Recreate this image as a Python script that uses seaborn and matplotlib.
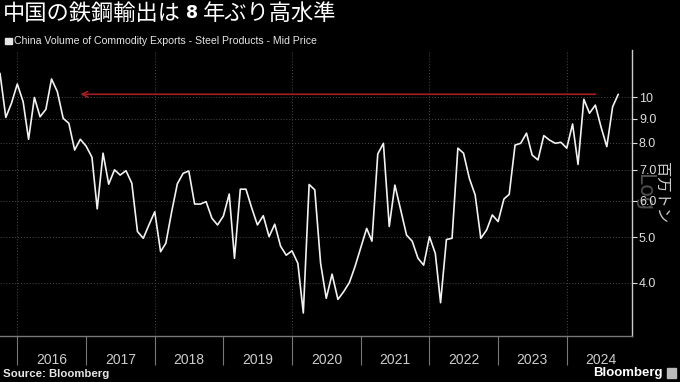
import matplotlib.dates as mdates
import matplotlib.pyplot as plt
import matplotlib.ticker as mticker
import pandas as pd
import seaborn as sns
from matplotlib.patches import Rectangle

# monthly steel product exports, million tonnes
START_MONTH = "2015-10-01"
export_volume = [
    11.27, 9.06, 9.72, 10.69, 9.79, 8.13, 10.0, 9.09, 9.43, 10.96,
    10.29, 9.02, 8.80, 7.71, 8.13, 7.86, 7.44, 5.76, 7.59, 6.51,
    6.99, 6.81, 6.96, 6.54, 5.15, 4.98, 5.32, 5.68, 4.66, 4.86,
    5.68, 6.52, 6.87, 6.95, 5.90, 5.90, 5.97, 5.50, 5.32, 5.56,
    6.20, 4.51, 6.35, 6.35, 5.78, 5.32, 5.57, 5.02, 5.34, 4.79,
    4.58, 4.68, 4.40, 3.44, 6.50, 6.33, 4.40, 3.70, 4.17, 3.68,
    3.82, 4.00, 4.33, 4.76, 5.23, 4.91, 7.56, 7.97, 5.28, 6.48,
    5.73, 5.06, 4.91, 4.51, 4.36, 5.02, 4.62, 3.62, 4.95, 4.98,
    7.78, 7.59, 6.70, 6.17, 4.98, 5.19, 5.59, 5.41, 6.05, 6.19,
    7.90, 7.97, 8.38, 7.52, 7.34, 8.28, 8.10, 7.97, 8.01, 7.78,
    8.77, 7.18, 9.91, 9.25, 9.63, 8.65, 7.84, 9.55, 10.16,
]
y_ticks = [4, 5, 6, 7, 8, 9, 10]
y_tick_labels = ["4.0", "5.0", "6.0", "7.0", "8.0", "9.0", "10"]
years = [2016, 2017, 2018, 2019, 2020, 2021, 2022, 2023, 2024]
grid_years = [2016, 2018, 2020, 2022, 2024]

# title is split so the "8" can be set in bold like the original
TITLE_PARTS = ["中国の鉄鋼輸出は", "8", "年ぶり高水準"]
SUBTITLE = "China Volume of Commodity Exports - Steel Products - Mid Price"
UNIT = "百万トン"

W, H = 680, 382
BG = "black"
FG = "#e6e6e6"
GRID = "#4a4a4a"
CJK = ["Noto Sans CJK JP", "DejaVu Sans"]


def px(x, y):
    # pixel position (from top-left) -> figure fraction
    return x / W, 1 - y / H


df = pd.DataFrame({
    "month": pd.date_range(START_MONTH, periods=len(export_volume), freq="MS"),
    "volume": export_volume,
})

sns.set_theme(style="dark", rc={"axes.facecolor": BG, "figure.facecolor": BG})
plt.rcParams["font.family"] = ["Liberation Sans", "Noto Sans CJK JP", "DejaVu Sans"]

fig = plt.figure(figsize=(W / 100, H / 100), dpi=100, facecolor=BG)
ax = fig.add_axes([0, 46 / H, 632 / W, 286 / H])
ax.set_facecolor(BG)

sns.lineplot(data=df, x="month", y="volume", ax=ax, color="#f2f2f2",
             linewidth=1.2, zorder=3)

ax.set_yscale("log")
ax.set_ylim(3.07, 12.65)
ax.set_xlim(mdates.date2num(pd.Timestamp("2015-10-01")),
            mdates.date2num(pd.Timestamp("2024-12-13")))
ax.set_xlabel("")
ax.set_ylabel("")

# y axis on the right
ax.yaxis.tick_right()
ax.set_yticks(y_ticks)
ax.set_yticklabels(y_tick_labels)
ax.yaxis.set_minor_locator(mticker.NullLocator())
ax.tick_params(axis="y", which="major", direction="out", length=3.5, width=0.8,
               color="#dddddd", labelcolor="#dddddd", labelsize=9, pad=1.5,
               right=True, left=False)

# x axis: long ticks at year boundaries, labels at mid-year
year_starts = [mdates.date2num(pd.Timestamp(f"{y}-01-01")) for y in years]
mid_years = [mdates.date2num(pd.Timestamp(f"{y}-07-02")) for y in years]
ax.set_xticks(year_starts)
ax.set_xticklabels([""] * len(years))
ax.set_xticks(mid_years, minor=True)
ax.set_xticklabels([str(y) for y in years], minor=True)
ax.tick_params(axis="x", which="major", direction="out", length=21, width=0.8,
               color="#777777", bottom=True)
ax.tick_params(axis="x", which="minor", length=0, labelsize=10,
               labelcolor="#cccccc", pad=12, bottom=True)

# dotted grid
ax.grid(False)
for v in y_ticks:
    ax.axhline(v, color=GRID, lw=0.7, ls=(0, (1, 2)), zorder=1)
for y in grid_years:
    ax.axvline(mdates.date2num(pd.Timestamp(f"{y}-01-01")), color=GRID,
               lw=0.7, ls=(0, (1, 2)), zorder=1)

for side in ["left", "top"]:
    ax.spines[side].set_visible(False)
ax.spines["right"].set_color("#cccccc")
ax.spines["right"].set_linewidth(1)
ax.spines["bottom"].set_color("#777777")
ax.spines["bottom"].set_linewidth(1)

# red arrow back to the last comparable level
last = export_volume[-1]
ax.annotate("", xy=(mdates.date2num(pd.Timestamp("2016-12-01")), last),
            xytext=(mdates.date2num(pd.Timestamp("2024-06-01")), last),
            arrowprops=dict(arrowstyle="->", color="#a31f1f", lw=1.2,
                            mutation_scale=10, shrinkA=0, shrinkB=0),
            zorder=2)

# title, chained piece by piece
t1 = fig.text(*px(3, 13), TITLE_PARTS[0], fontsize=16, color="white",
              va="center", family=CJK)
t2 = ax.annotate(TITLE_PARTS[1], xy=(1, 0.5), xycoords=t1, xytext=(3.5, 0),
                 textcoords="offset points", fontsize=12.5, fontweight="bold",
                 color="white", va="center", family=["DejaVu Sans"])
ax.annotate(TITLE_PARTS[2], xy=(1, 0.5), xycoords=t2, xytext=(3.5, 0),
            textcoords="offset points", fontsize=16, color="white",
            va="center", family=CJK)

fig.patches.append(Rectangle(px(5, 44), 6.5 / W, 6.5 / H,
                             transform=fig.transFigure, color=FG))
fig.text(*px(14, 41), SUBTITLE, fontsize=7.6, color=FG, va="center")

# axis unit labels
fig.text(*px(644, 193), "Log", rotation=270, color="#4d4d4d", fontsize=15,
         ha="center", va="center", family=["DejaVu Sans"], zorder=-1)
fig.text(*px(662, 192), UNIT, rotation=270, color="#cccccc", fontsize=11,
         ha="center", va="center", family=CJK)

# footer
fig.text(*px(3, 374), "Source: Bloomberg", fontsize=8.2, fontweight="bold",
         color=FG, va="center")
fig.text(*px(663, 373), "Bloomberg", fontsize=9.5, fontweight="bold",
         color="white", ha="right", va="center")
fig.patches.append(Rectangle(px(667, 378), 9 / W, 10 / H,
                             transform=fig.transFigure, color="#bbbbbb"))

fig.savefig("out.png", dpi=100, facecolor=BG)
